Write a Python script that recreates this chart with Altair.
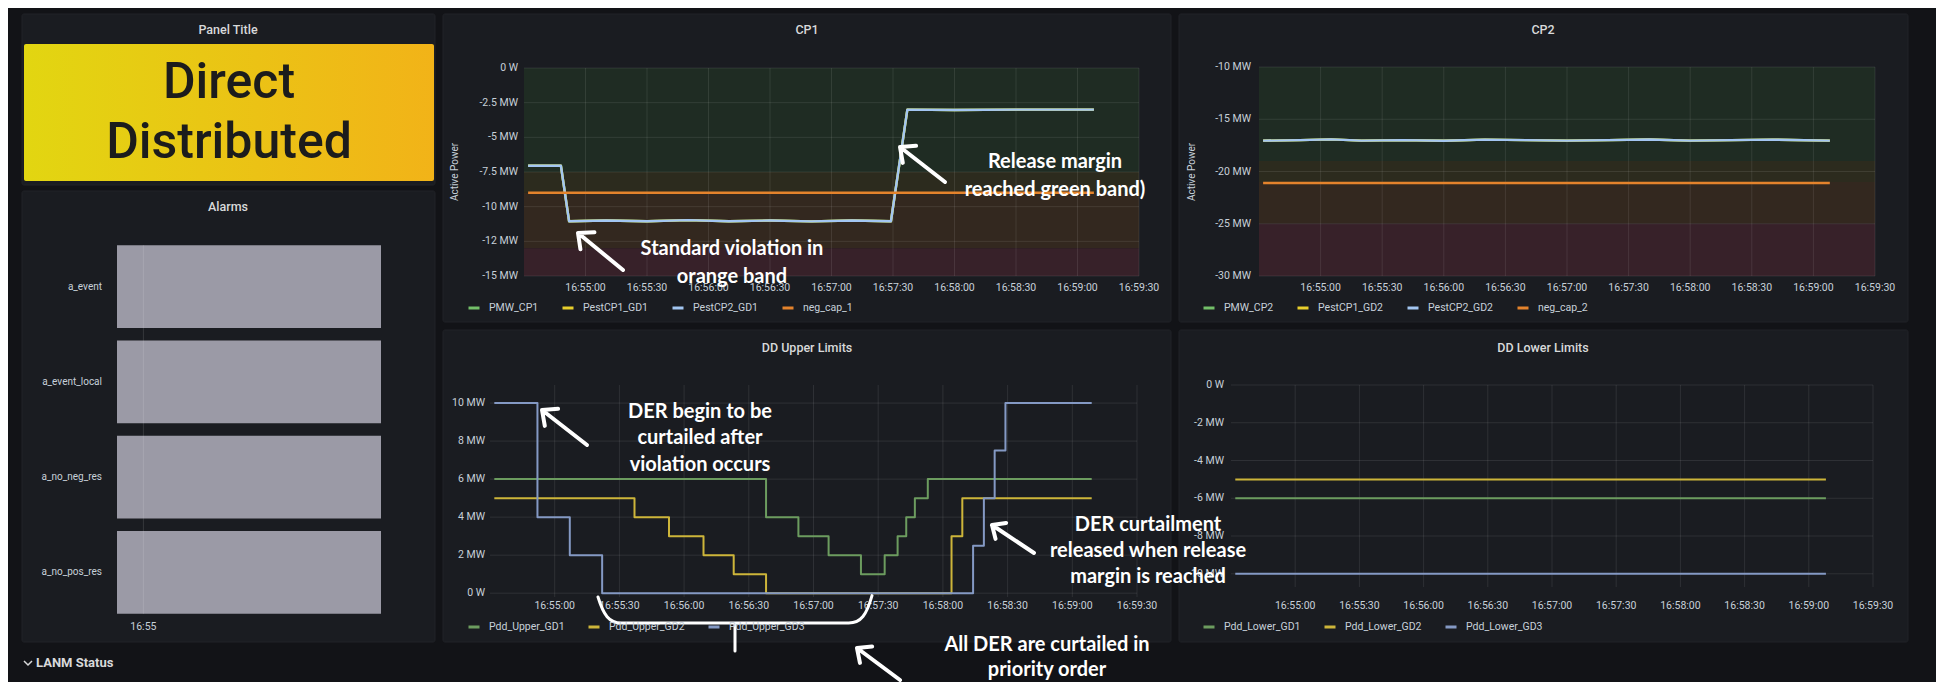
import math
import altair as alt
import pandas as pd

# ------------------------------------------------------------------
# values
# ------------------------------------------------------------------
WINDOW_START = "16:54:30"
WINDOW_SECONDS = 300
TIME_TICKS = ["16:55:00", "16:55:30", "16:56:00", "16:56:30", "16:57:00",
              "16:57:30", "16:58:00", "16:58:30", "16:59:00", "16:59:30"]

ALARM_NAMES = ["a_event", "a_event_local", "a_no_neg_res", "a_no_pos_res"]
ALARM_FROM = ["16:54:30", "16:54:30", "16:54:30", "16:54:30"]
ALARM_TO = ["16:59:30", "16:59:30", "16:59:30", "16:59:30"]
ALARM_TICKS = ["16:55:00"]
ALARM_TICK_LABELS = ["16:55"]

CP1_SERIES = ["PMW_CP1", "PestCP1_GD1", "PestCP2_GD1", "neg_cap_1"]
CP1_TIME = ["16:54:32", "16:54:48", "16:54:52", "16:55:10", "16:55:30", "16:55:50",
            "16:56:10", "16:56:30", "16:56:50", "16:57:10", "16:57:29", "16:57:37",
            "16:58:00", "16:58:30", "16:59:08"]
CP1_PMW = [-7.05, -7.05, -11.05, -11.0, -11.05, -10.97, -11.05, -11.0, -11.06,
           -11.0, -11.05, -3.0, -3.03, -3.0, -3.0]
CP1_NEGCAP_TIME = ["16:54:32", "16:59:08"]
CP1_NEGCAP = [-9.0, -9.0]
CP1_BAND_TOP = [0, -7.5, -9, -13]
CP1_BAND_BOTTOM = [-7.5, -9, -13, -15]
CP1_YTICKS = [0, -2.5, -5, -7.5, -10, -12.5, -15]
CP1_YLABELS = ["0 W", "-2.5 MW", "-5 MW", "-7.5 MW", "-10 MW", "-12 MW", "-15 MW"]

CP2_SERIES = ["PMW_CP2", "PestCP1_GD2", "PestCP2_GD2", "neg_cap_2"]
CP2_TIME = ["16:54:32", "16:54:50", "16:55:05", "16:55:20", "16:55:40", "16:56:00",
            "16:56:20", "16:56:40", "16:57:00", "16:57:20", "16:57:40", "16:58:00",
            "16:58:20", "16:58:40", "16:59:08"]
CP2_PMW = [-17.05, -17.0, -16.93, -17.05, -17.0, -17.06, -16.95, -17.0, -17.05,
           -17.0, -16.94, -17.05, -17.0, -16.95, -17.05]
CP2_NEGCAP_TIME = ["16:54:32", "16:59:08"]
CP2_NEGCAP = [-21.1, -21.1]
CP2_BAND_TOP = [-10, -19, -21, -25]
CP2_BAND_BOTTOM = [-19, -21, -25, -30]
CP2_YTICKS = [-10, -15, -20, -25, -30]
CP2_YLABELS = ["-10 MW", "-15 MW", "-20 MW", "-25 MW", "-30 MW"]

BAND_NAMES = ["normal", "margin", "violation", "critical"]

DDU_SERIES = ["Pdd_Upper_GD1", "Pdd_Upper_GD2", "Pdd_Upper_GD3"]
DDU_GD1_TIME = ["16:54:32", "16:56:38", "16:56:53", "16:57:07", "16:57:22", "16:57:33",
                "16:57:39", "16:57:43", "16:57:47", "16:57:53", "16:59:09"]
DDU_GD1 = [6, 4, 3, 2, 1, 2, 3, 4, 5, 6, 6]
DDU_GD2_TIME = ["16:54:32", "16:55:37", "16:55:53", "16:56:09", "16:56:23", "16:56:38",
                "16:58:04", "16:58:09", "16:59:09"]
DDU_GD2 = [5, 4, 3, 2, 1, 0, 3, 5, 5]
DDU_GD3_TIME = ["16:54:32", "16:54:52", "16:55:07", "16:55:22", "16:58:14", "16:58:19",
                "16:58:24", "16:58:29", "16:59:09"]
DDU_GD3 = [10, 4, 2, 0, 2.5, 5, 7.5, 10, 10]
DDU_YTICKS = [0, 2, 4, 6, 8, 10]
DDU_YLABELS = ["0 W", "2 MW", "4 MW", "6 MW", "8 MW", "10 MW"]

DDL_SERIES = ["Pdd_Lower_GD1", "Pdd_Lower_GD2", "Pdd_Lower_GD3"]
DDL_TIME = ["16:54:32", "16:59:08"]
DDL_GD1 = [-6, -6]
DDL_GD2 = [-5, -5]
DDL_GD3 = [-10, -10]
DDL_YTICKS = [0, -2, -4, -6, -8, -10]
DDL_YLABELS = ["0 W", "-2 MW", "-4 MW", "-6 MW", "-8 MW", "-10 MW"]

# ------------------------------------------------------------------
# styling / layout
# ------------------------------------------------------------------
OFF = 8                      # page margin: reference pixel -> canvas pixel
W, H = 1928, 674
PAGE_BG = "#121317"
CARD_BG = "#1a1c21"
CARD_EDGE = "#212328"
TXT = "#c7d0d9"
TITLE_TXT = "#d8d9da"
FONT = "Roboto"
ANN_FONT = "Lato"
GRID = dict(color="#ffffff", opacity=0.09, strokeWidth=1)

CP_COLORS = ["#73bf69", "#e8cf2c", "#a3c6f2", "#e4832c"]
DD_COLORS = ["#6c9c5f", "#cdb53a", "#8499c4"]
BAND_COLORS = ["#1f2c23", "#2c2b1e", "#33281f", "#372129"]


def px(v):
    return v - OFF


def sec(t):
    h, m, s = (int(p) for p in t.split(":"))
    h0, m0, s0 = (int(p) for p in WINDOW_START.split(":"))
    return (h * 3600 + m * 60 + s) - (h0 * 3600 + m0 * 60 + s0)


ONE = alt.Data(values=[{"k": 0}])


def box(x0, y0, x1, y1, **kw):
    return alt.Chart(ONE).mark_rect(**kw).encode(
        x=alt.value(px(x0)), x2=alt.value(px(x1)),
        y=alt.value(px(y0)), y2=alt.value(px(y1)))


def label(text, x, y, **kw):
    kw.setdefault("font", FONT)
    kw.setdefault("baseline", "middle")
    return alt.Chart(ONE).mark_text(text=text, **kw).encode(
        x=alt.value(px(x)), y=alt.value(px(y)))


class Panel:
    def __init__(self, x0, x1, ydom, yb, yt):
        self.x0, self.x1, self.yb, self.yt = x0, x1, yb, yt
        self.xs = alt.Scale(domain=[0, WINDOW_SECONDS], range=[px(x0), px(x1)],
                            nice=False, zero=False)
        self.ys = alt.Scale(domain=ydom, range=[px(yb), px(yt)], nice=False, zero=False)

    def X(self, f="t"):
        return alt.X(f"{f}:Q", scale=self.xs, axis=None)

    def Y(self, f="v"):
        return alt.Y(f"{f}:Q", scale=self.ys, axis=None)


def series_frame(names, times_list, values_list):
    rows = []
    for n, ts, vs in zip(names, times_list, values_list):
        for t, v in zip(ts, vs):
            rows.append({"s": n, "t": sec(t), "v": v})
    return pd.DataFrame(rows)


def grid(p, yticks):
    vt = pd.DataFrame({"t": [sec(t) for t in TIME_TICKS]})
    hv = pd.DataFrame({"v": yticks})
    return [
        alt.Chart(vt).mark_rule(**GRID).encode(
            x=p.X(), y=alt.value(px(p.yt)), y2=alt.value(px(p.yb))),
        alt.Chart(hv).mark_rule(**GRID).encode(
            y=p.Y(), x=alt.value(px(p.x0)), x2=alt.value(px(p.x1))),
    ]


def tick_labels(p, yticks, ylabels, ylab_right, xlab_y):
    xt = pd.DataFrame({"t": [sec(t) for t in TIME_TICKS], "lab": TIME_TICKS})
    yt = pd.DataFrame({"v": yticks, "lab": ylabels})
    return [
        alt.Chart(xt).mark_text(font=FONT, fontSize=10.5, color=TXT, baseline="middle",
                                align="center").encode(
            x=p.X(), y=alt.value(px(xlab_y)), text="lab:N"),
        alt.Chart(yt).mark_text(font=FONT, fontSize=10.5, color=TXT, baseline="middle",
                                align="right").encode(
            y=p.Y(), x=alt.value(px(ylab_right)), text="lab:N"),
    ]


def legend_at(x, y):
    return alt.Legend(orient="none", legendX=px(x), legendY=px(y), direction="horizontal",
                      title=None, symbolType="stroke", symbolSize=121, symbolStrokeWidth=3,
                      labelFont=FONT, labelFontSize=10.5, labelColor=TXT, labelOffset=8,
                      columnPadding=17, padding=0, symbolOpacity=1)


def lines(p, df, names, colors, leg_x, leg_y, width, interp="linear"):
    return alt.Chart(df).mark_line(interpolate=interp, strokeWidth=width,
                                   strokeJoin="round").encode(
        x=p.X(), y=p.Y(),
        color=alt.Color("s:N", scale=alt.Scale(domain=names, range=colors),
                        legend=legend_at(leg_x, leg_y)))


def bands(p, tops, bottoms):
    df = pd.DataFrame({"b": BAND_NAMES, "v": tops, "v2": bottoms})
    return alt.Chart(df).mark_rect().encode(
        y=p.Y(), y2="v2:Q",
        x=alt.value(px(p.x0)), x2=alt.value(px(p.x1)),
        color=alt.Color("b:N", scale=alt.Scale(domain=BAND_NAMES, range=BAND_COLORS),
                        legend=None))


ARROW = "M1,0 L-1,0 M-0.58,-0.38 L-1,0 L-0.58,0.38"
BRACKET = ("M-1,-0.19 C-0.96,-0.06 -0.92,0 -0.83,0 L0.83,0 "
           "C0.92,0 0.96,-0.06 1,-0.2 M0,0 L0,0.205")


def arrow(tip, tail):
    dx, dy = tip[0] - tail[0], tip[1] - tail[1]
    ang = (math.degrees(math.atan2(dy, dx)) - 180) % 360
    length = math.hypot(dx, dy)
    cx, cy = (tip[0] + tail[0]) / 2, (tip[1] + tail[1]) / 2
    return alt.Chart(ONE).mark_point(shape=ARROW, size=length ** 2, angle=ang, filled=False,
                                     stroke="white", strokeWidth=4, opacity=1,
                                     strokeCap="round", strokeJoin="round").encode(
        x=alt.value(px(cx)), y=alt.value(px(cy)))


layers = []

# ---- cards -------------------------------------------------------
for (x0, y0, x1, y1) in [(22, 14, 435, 185), (22, 191, 435, 642),
                         (443, 14, 1171, 322), (1179, 14, 1908, 322),
                         (443, 330, 1171, 642), (1179, 330, 1908, 642)]:
    layers.append(box(x0, y0, x1, y1, fill=CARD_BG, stroke=CARD_EDGE, strokeWidth=1,
                      cornerRadius=2))

# ---- panel titles --------------------------------------------------
for text, x, y in [("Panel Title", 228, 30), ("Alarms", 228, 207), ("CP1", 807, 30),
                   ("CP2", 1543, 30), ("DD Upper Limits", 807, 348),
                   ("DD Lower Limits", 1543, 348)]:
    layers.append(label(text, x, y, fontSize=12.5, fontWeight=500, color=TITLE_TXT,
                        align="center"))

# ---- stat panel ----------------------------------------------------
grad = alt.Gradient(gradient="linear", x1=0, x2=1, y1=0, y2=0,
                    stops=[alt.GradientStop(color="#e2d611", offset=0),
                           alt.GradientStop(color="#f2b318", offset=1)])
layers.append(box(24, 44, 434, 181, fill=grad, cornerRadius=2))
layers.append(label("Direct", 229, 98, fontSize=50, fontWeight=500, color="#1c1c1c",
                    align="center", baseline="alphabetic"))
layers.append(label("Distributed", 229, 158, fontSize=50, fontWeight=500, color="#1c1c1c",
                    align="center", baseline="alphabetic"))

# ---- alarms --------------------------------------------------------
alarm_x = alt.Scale(domain=[0, WINDOW_SECONDS], range=[px(117), px(381)], nice=False,
                    zero=False)
alarm_y = alt.Scale(type="band", domain=ALARM_NAMES, range=[px(239), px(620)],
                    paddingInner=0.13, paddingOuter=0.065)
adf = pd.DataFrame({"name": ALARM_NAMES, "t": [sec(t) for t in ALARM_FROM],
                    "t2": [sec(t) for t in ALARM_TO]})
layers.append(alt.Chart(adf).mark_rect(color="#9b9aa6").encode(
    x=alt.X("t:Q", scale=alarm_x, axis=None), x2="t2:Q",
    y=alt.Y("name:N", scale=alarm_y, axis=None)))
layers.append(alt.Chart(adf).mark_text(font=FONT, fontSize=10, color=TXT, align="right",
                                       baseline="middle").encode(
    y=alt.Y("name:N", scale=alarm_y, axis=None), x=alt.value(px(102)), text="name:N"))
atk = pd.DataFrame({"t": [sec(t) for t in ALARM_TICKS], "lab": ALARM_TICK_LABELS})
layers.append(alt.Chart(atk).mark_rule(color="#ffffff", opacity=0.12).encode(
    x=alt.X("t:Q", scale=alarm_x, axis=None), y=alt.value(px(245)), y2=alt.value(px(614))))
layers.append(alt.Chart(atk).mark_text(font=FONT, fontSize=10.5, color=TXT,
                                       baseline="middle").encode(
    x=alt.X("t:Q", scale=alarm_x, axis=None), y=alt.value(px(627)), text="lab:N"))

# ---- CP1 -----------------------------------------------------------
cp1 = Panel(524, 1139, [-15, 0], 276, 68)
layers.append(bands(cp1, CP1_BAND_TOP, CP1_BAND_BOTTOM))
layers += grid(cp1, CP1_YTICKS)
cp1_df = series_frame(CP1_SERIES, [CP1_TIME, CP1_TIME, CP1_TIME, CP1_NEGCAP_TIME],
                      [CP1_PMW, CP1_PMW, CP1_PMW, CP1_NEGCAP])
layers.append(lines(cp1, cp1_df, CP1_SERIES, CP_COLORS, 467, 301, 2.4))
layers += tick_labels(cp1, CP1_YTICKS, CP1_YLABELS, 518, 288)
layers.append(label("Active Power", 455, 172, fontSize=10, color=TXT, angle=270,
                    align="center"))

# ---- CP2 -----------------------------------------------------------
cp2 = Panel(1259, 1875, [-30, -10], 276, 67)
layers.append(bands(cp2, CP2_BAND_TOP, CP2_BAND_BOTTOM))
layers += grid(cp2, CP2_YTICKS)
cp2_df = series_frame(CP2_SERIES, [CP2_TIME, CP2_TIME, CP2_TIME, CP2_NEGCAP_TIME],
                      [CP2_PMW, CP2_PMW, CP2_PMW, CP2_NEGCAP])
layers.append(lines(cp2, cp2_df, CP2_SERIES, CP_COLORS, 1202, 301, 2.4))
layers += tick_labels(cp2, CP2_YTICKS, CP2_YLABELS, 1251, 288)
layers.append(label("Active Power", 1192, 172, fontSize=10, color=TXT, angle=270,
                    align="center"))

# ---- DD upper ------------------------------------------------------
ddu = Panel(490, 1137, [-0.2, 10.95], 597, 385)
layers += grid(ddu, DDU_YTICKS)
ddu_df = series_frame(DDU_SERIES, [DDU_GD1_TIME, DDU_GD2_TIME, DDU_GD3_TIME],
                      [DDU_GD1, DDU_GD2, DDU_GD3])
layers.append(lines(ddu, ddu_df, DDU_SERIES, DD_COLORS, 467, 620, 2, "step-after"))
layers += tick_labels(ddu, DDU_YTICKS, DDU_YLABELS, 485, 606)

# ---- DD lower ------------------------------------------------------
ddl = Panel(1231, 1873, [-10.7, 0], 587, 385)
layers += grid(ddl, DDL_YTICKS)
ddl_df = series_frame(DDL_SERIES, [DDL_TIME, DDL_TIME, DDL_TIME],
                      [DDL_GD1, DDL_GD2, DDL_GD3])
layers.append(lines(ddl, ddl_df, DDL_SERIES, DD_COLORS, 1202, 620, 2))
layers += tick_labels(ddl, DDL_YTICKS, DDL_YLABELS, 1224, 606)

# ---- LANM Status row ----------------------------------------------
layers.append(alt.Chart(ONE).mark_point(shape="M-1,-0.5 L0,0.5 L1,-0.5", size=64,
                                        filled=False, stroke=TITLE_TXT, strokeWidth=1.5,
                                        opacity=1).encode(
    x=alt.value(px(28)), y=alt.value(px(663))))
layers.append(label("LANM Status", 36, 663, fontSize=13, fontWeight="bold", color=TITLE_TXT,
                    align="left"))

# ---- annotations ---------------------------------------------------
ANN = dict(font=ANN_FONT, fontSize=20, fontWeight="bold", color="#ffffff", align="center")
for lines_, x, ys in [
    (["Standard violation in", "orange band"], 732, [249, 277]),
    (["Release margin", "reached green band)"], 1055, [162, 190]),
    (["DER begin to be", "curtailed after", "violation occurs"], 700, [412, 438, 465]),
    (["DER curtailment", "released when release", "margin is reached"], 1148, [525, 551, 577]),
    (["All DER are curtailed in", "priority order"], 1047, [645, 670]),
]:
    for t, y in zip(lines_, ys):
        layers.append(label(t, x, y, **ANN))

for tip, tail in [((578, 233), (623, 270)), ((900, 147), (945, 182)),
                  ((542, 410), (587, 445)), ((992, 525), (1034, 553)),
                  ((857, 648), (900, 680))]:
    layers.append(arrow(tip, tail))

layers.append(alt.Chart(ONE).mark_point(shape=BRACKET, size=274 ** 2, filled=False,
                                        stroke="white", strokeWidth=3, opacity=1,
                                        strokeCap="round").encode(
    x=alt.value(px(735)), y=alt.value(px(623))))

chart = alt.layer(*layers).properties(
    width=W, height=H, background=PAGE_BG, padding=0,
    autosize=alt.AutoSizeParams(type="none"),
).resolve_scale(x="independent", y="independent", color="independent").configure_view(
    stroke=None)

chart.save("out.html", embed_options={"renderer": "svg", "actions": False})
